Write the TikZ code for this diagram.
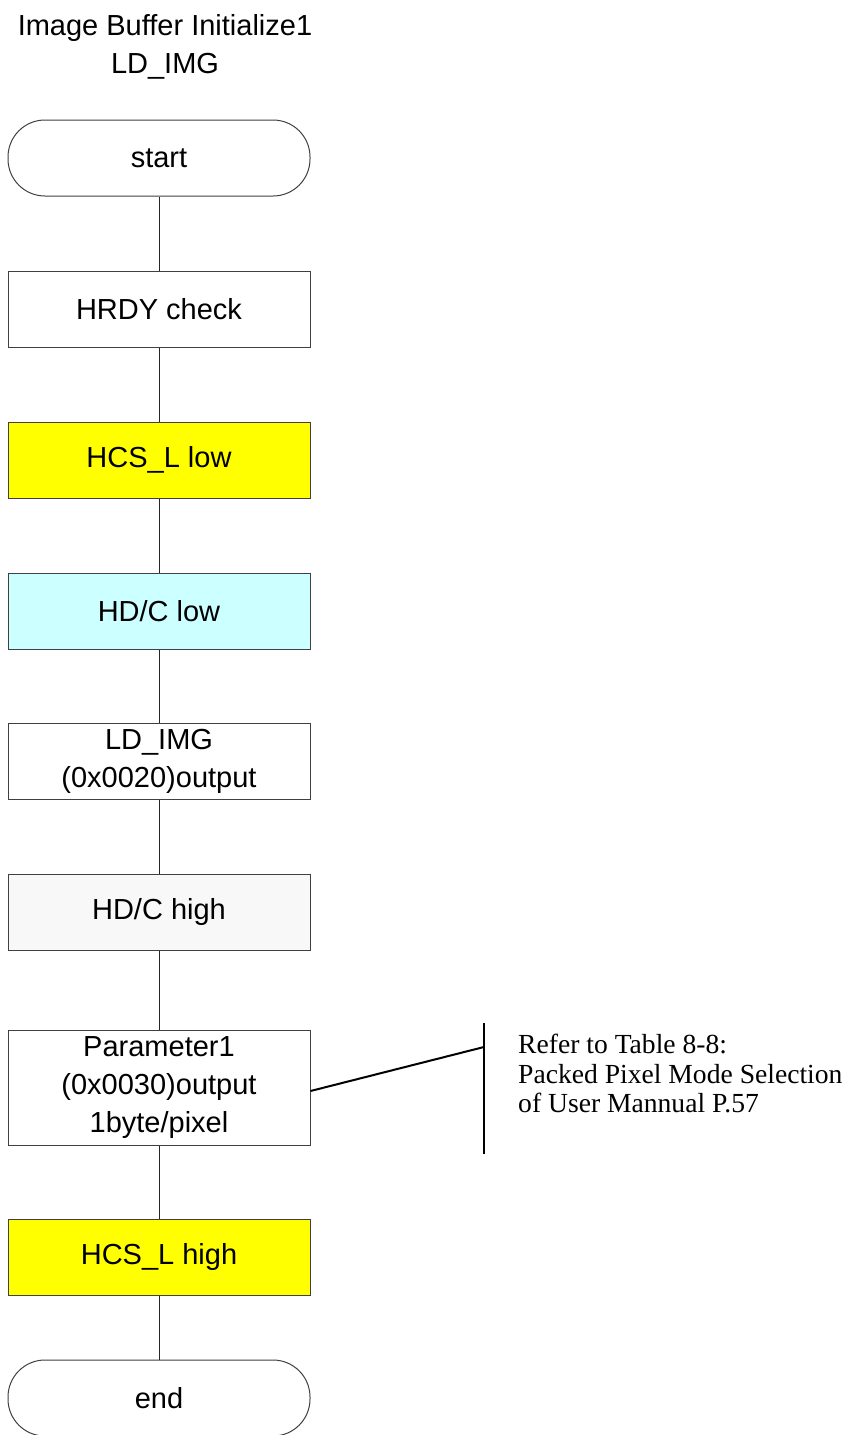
\documentclass[tikz,border=0pt]{standalone}
\usepackage{fontspec}
\setmainfont{Liberation Serif}
\setsansfont{Liberation Sans}
\definecolor{stepyellow}{RGB}{255,255,0}
\definecolor{stepcyan}{RGB}{204,255,255}
\definecolor{stepgray}{RGB}{248,248,248}
\begin{document}
\begin{tikzpicture}[x=1pt,y=-1pt,
  every node/.style={font=\sffamily\fontsize{29}{38}\selectfont, align=center, inner sep=0pt},
  proc/.style={draw=black!75, line width=1pt, minimum width=302pt, minimum height=76pt},
  term/.style={proc, rounded corners=37pt},
  link/.style={draw=black!85, line width=1pt},
  note/.style={draw=black, line width=2pt},
  notetext/.style={font=\rmfamily\fontsize{27.6}{29.5}\selectfont, align=left, anchor=north west}]
\clip (0,0) rectangle (851,1435);
\fill[white] (0,0) rectangle (851,1435);

% heading (base anchor sits on the last line)
\node[anchor=base] (title) at (165,73) {Image Buffer Initialize1\\LD\_IMG};

% flow steps
\node[term] (start) at (159,158) {start};
\node[proc] (hrdy) at (159,309) {HRDY check};
\node[proc, fill=stepyellow] (csl) at (159,460) {HCS\_L low};
\node[proc, fill=stepcyan] (dcl) at (159,611) {HD/C low};
\node[proc] (ldimg) at (159,761) {LD\_IMG\\(0x0020)output};
\node[proc, fill=stepgray] (dch) at (159,912) {HD/C high};
\node[proc, minimum height=115pt] (param) at (159,1088) {Parameter1\\(0x0030)output\\1byte/pixel};
\node[proc, fill=stepyellow] (csh) at (159,1257) {HCS\_L high};
\node[term] (end) at (159,1398) {end};

% connectors
\draw[link] (start) -- (hrdy);
\draw[link] (hrdy) -- (csl);
\draw[link] (csl) -- (dcl);
\draw[link] (dcl) -- (ldimg);
\draw[link] (ldimg) -- (dch);
\draw[link] (dch) -- (param);
\draw[link] (param) -- (csh);
\draw[link] (csh) -- (end);

% annotation bracket
\coordinate (barTop) at (484,1023);
\coordinate (barBot) at (484,1154);
\coordinate (barHit) at (484,1047);
\draw[note] (barTop) -- (barBot);
\draw[note] ([yshift=-3pt]param.east) -- (barHit);
\node[notetext] (ref) at (518,1034) {Refer to Table 8-8:\\Packed Pixel Mode Selection\\of User Mannual P.57};
\end{tikzpicture}
\end{document}
